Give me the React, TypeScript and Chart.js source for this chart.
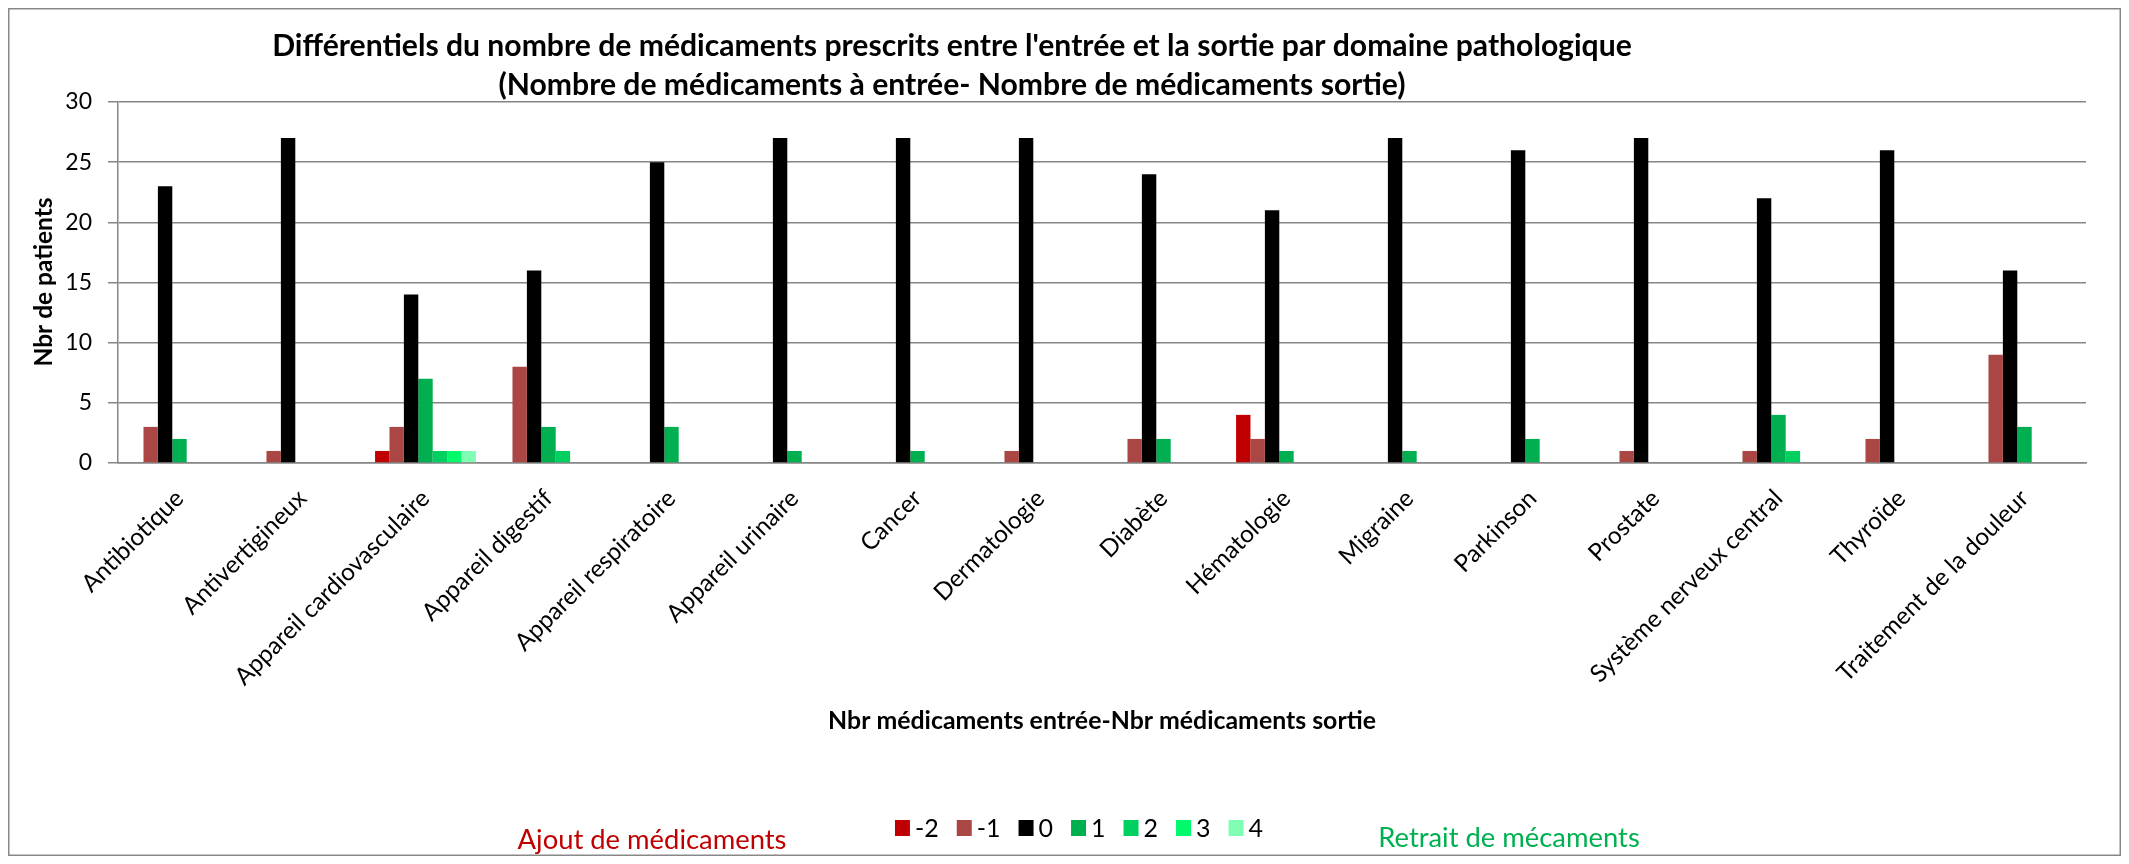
import React, { useEffect, useRef } from "react";
import { Chart, registerables } from "chart.js";

Chart.register(...registerables);

const categories = [
  "Antibiotique",
  "Antivertigineux",
  "Appareil cardiovasculaire",
  "Appareil digestif",
  "Appareil respiratoire",
  "Appareil urinaire",
  "Cancer",
  "Dermatologie",
  "Diabète",
  "Hématologie",
  "Migraine",
  "Parkinson",
  "Prostate",
  "Système nerveux central",
  "Thyroïde",
  "Traitement de la douleur",
];

const seriesLabels = ["-2", "-1", "0", "1", "2", "3", "4"];

const valuesMinus2 = [0, 0, 1, 0, 0, 0, 0, 0, 0, 4, 0, 0, 0, 0, 0, 0];
const valuesMinus1 = [3, 1, 3, 8, 0, 0, 0, 1, 2, 2, 0, 0, 1, 1, 2, 9];
const values0 = [23, 27, 14, 16, 25, 27, 27, 27, 24, 21, 27, 26, 27, 22, 26, 16];
const values1 = [2, 0, 7, 3, 3, 1, 1, 0, 2, 1, 1, 2, 0, 4, 0, 3];
const values2 = [0, 0, 1, 1, 0, 0, 0, 0, 0, 0, 0, 0, 0, 1, 0, 0];
const values3 = [0, 0, 1, 0, 0, 0, 0, 0, 0, 0, 0, 0, 0, 0, 0, 0];
const values4 = [0, 0, 1, 0, 0, 0, 0, 0, 0, 0, 0, 0, 0, 0, 0, 0];

const seriesColors = ["#C00000", "#AA4643", "#000000", "#00B050", "#00D060", "#00FA6C", "#80FFB4"];

const titleLines = [
  "Différentiels du nombre de médicaments prescrits entre l'entrée et la sortie par domaine pathologique",
  "(Nombre de médicaments à entrée- Nombre de médicaments sortie)",
];
const yAxisTitle = "Nbr de patients";
const xAxisTitle = "Nbr médicaments entrée-Nbr médicaments sortie";
const leftNote = "Ajout de médicaments";
const rightNote = "Retrait de mécaments";

const FAMILY = "Lato, 'Open Sans', sans-serif";
const W = 2113;
const H = 848;

function fitSize(text: string, weight: string, target: number): number {
  const c = document.createElement("canvas");
  const ctx = c.getContext("2d")!;
  ctx.font = `${weight} 100px ${FAMILY}`;
  const w = ctx.measureText(text).width;
  return (100 * target) / w;
}

export default function App() {
  const ref = useRef<HTMLCanvasElement | null>(null);

  useEffect(() => {
    let chart: Chart | null = null;
    let cancelled = false;

    const build = () => {
      if (cancelled || !ref.current) return;
      const titleSize = fitSize(titleLines[0], "bold", 1360);
      const yTitleSize = fitSize(yAxisTitle, "bold", 169);
      const xTitleSize = fitSize(xAxisTitle, "bold", 548);
      const noteSize = fitSize(leftNote, "normal", 269);
      const xTickSize = fitSize("Appareil cardiovasculaire", "normal", 264);

      const decor = {
        id: "decor",
        afterDraw(c: Chart) {
          const ctx = c.ctx;
          ctx.save();
          // outer border
          ctx.strokeStyle = "#888888";
          ctx.lineWidth = 1.5;
          ctx.strokeRect(0.75, 0.75, W - 1.5, H - 1.5);

          ctx.fillStyle = "#000000";
          ctx.textAlign = "center";
          ctx.textBaseline = "middle";
          ctx.font = `bold ${titleSize}px ${FAMILY}`;
          ctx.fillText(titleLines[0], 944, 38);
          ctx.fillText(titleLines[1], 944, 77);

          // y title
          ctx.save();
          ctx.translate(36, 274);
          ctx.rotate(-Math.PI / 2);
          ctx.font = `bold ${yTitleSize}px ${FAMILY}`;
          ctx.fillText(yAxisTitle, 0, 0);
          ctx.restore();

          // x title
          ctx.font = `bold ${xTitleSize}px ${FAMILY}`;
          ctx.fillText(xAxisTitle, 1094, 713);

          // notes
          ctx.font = `${noteSize}px ${FAMILY}`;
          ctx.fillStyle = "#C00000";
          ctx.fillText(leftNote, 644, 832);
          ctx.fillStyle = "#00B050";
          ctx.fillText(rightNote, 1501, 830);

          // legend
          ctx.font = `25px ${FAMILY}`;
          ctx.textAlign = "left";
          const box = 15;
          const gapText = 5;
          const gapItem = 18;
          let total = 0;
          seriesLabels.forEach((l, i) => {
            total += box + gapText + ctx.measureText(l).width + (i < seriesLabels.length - 1 ? gapItem : 0);
          });
          let x = 1071 - total / 2;
          const cy = 820;
          seriesLabels.forEach((l, i) => {
            ctx.fillStyle = seriesColors[i];
            ctx.fillRect(x, cy - 8, box, 16);
            x += box + gapText;
            ctx.fillStyle = "#000000";
            ctx.fillText(l, x, cy + 1);
            x += ctx.measureText(l).width + gapItem;
          });
          ctx.restore();
        },
      };

      const seriesValues = [valuesMinus2, valuesMinus1, values0, values1, values2, values3, values4];

      chart = new Chart(ref.current, {
        type: "bar",
        data: {
          labels: categories,
          datasets: seriesLabels.map((l, i) => ({
            label: l,
            data: seriesValues[i],
            backgroundColor: seriesColors[i],
            borderWidth: 0,
            categoryPercentage: 0.82,
            barPercentage: 1.0,
          })),
        },
        options: {
          responsive: false,
          animation: false,
          devicePixelRatio: 1,
          layout: { padding: { top: 94, right: 35, left: 0, bottom: 0 } },
          plugins: {
            legend: { display: false },
            title: { display: false },
            tooltip: { enabled: false },
          },
          scales: {
            x: {
              grid: { display: false, drawTicks: false },
              border: { display: true, color: "#868686", width: 1.5 },
              ticks: {
                autoSkip: false,
                minRotation: 45,
                maxRotation: 45,
                padding: 21,
                color: "#000000",
                font: { family: FAMILY, size: xTickSize },
              },
              afterFit(scale: any) {
                scale.height = H - 455;
              },
            },
            y: {
              min: 0,
              max: 30,
              grid: { color: "#868686", lineWidth: 1.5, tickLength: 10, drawTicks: true },
              border: { display: true, color: "#868686", width: 1.5 },
              ticks: {
                stepSize: 5,
                padding: 16,
                color: "#000000",
                font: { family: FAMILY, size: 23 },
              },
              afterFit(scale: any) {
                scale.width = 110;
              },
            },
          },
        },
        plugins: [decor],
      });
    };

    const fonts: any = (document as any).fonts;
    if (fonts && fonts.load) {
      Promise.all([fonts.load(`20px Lato`), fonts.load(`bold 20px Lato`)])
        .catch(() => undefined)
        .then(build);
    } else {
      build();
    }

    return () => {
      cancelled = true;
      if (chart) chart.destroy();
    };
  }, []);

  return (
    <div style={{ width: W, height: H }}>
      <canvas ref={ref} width={W} height={H} style={{ display: "block", width: W, height: H }} />
    </div>
  );
}
